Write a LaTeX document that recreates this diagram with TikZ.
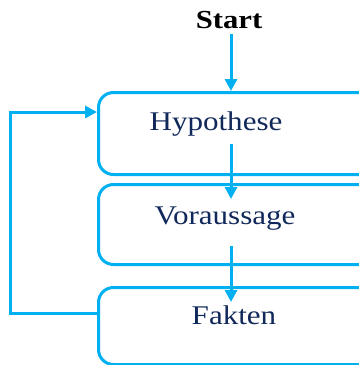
\documentclass[tikz,border=0pt]{standalone}
\usepackage{fontspec}
\setmainfont{Liberation Serif}
\usetikzlibrary{arrows.meta}
\definecolor{flowline}{HTML}{00B0F0}
\definecolor{flowtext}{HTML}{10285A}
\begin{document}
\begin{tikzpicture}[x=1pt,y=-1pt,
  box/.style={draw=flowline, line width=3pt, rounded corners=15pt, minimum width=290pt, anchor=north west, inner sep=0pt},
  label/.style={text=flowtext, font=\fontsize{27}{30}\selectfont, inner sep=0pt, xscale=1.15, transform shape},
  link/.style={draw=flowline, line width=3pt, -{Triangle[length=12pt,width=12pt]}}]
  \useasboundingbox (0,0) rectangle (359,365);
  \clip (0,0) rectangle (359,365);
  % rounded boxes, running past the right edge
  \node[box, minimum height=82pt] (hbox) at (97,91) {};
  \node[box, minimum height=80pt] (vbox) at (97,183) {};
  \node[box, minimum height=77pt] (fbox) at (97,286) {};
  % labels
  \node[font=\bfseries\fontsize{26}{30}\selectfont, xscale=1.18, transform shape, inner sep=0pt] (start) at (229,20) {Start};
  \node[label] (hyp) at (216,124) {Hypothese};
  \node[label] (vor) at (225,219) {Voraussage};
  \node[label] (fak) at (234,315) {Fakten};
  % main flow
  \coordinate (s0) at (231,34);
  \draw[link] (s0) -- (s0 |- hbox.north);
  \coordinate (h0) at (231,144);
  \coordinate (v0) at (231,199);
  \draw[link] (h0) -- (v0);
  \coordinate (v1) at (231,246);
  \coordinate (f1) at (231,302);
  \draw[link] (v1) -- (f1);
  % feedback loop from Fakten back to Hypothese
  \coordinate (fb0) at (97,313);
  \coordinate (fb1) at (10,313);
  \coordinate (fb2) at (10,112);
  \coordinate (hin) at (97,112);
  \draw[link, line join=miter] (fb0) -- (fb1) -- (fb2) -- (hin);
\end{tikzpicture}
\end{document}
